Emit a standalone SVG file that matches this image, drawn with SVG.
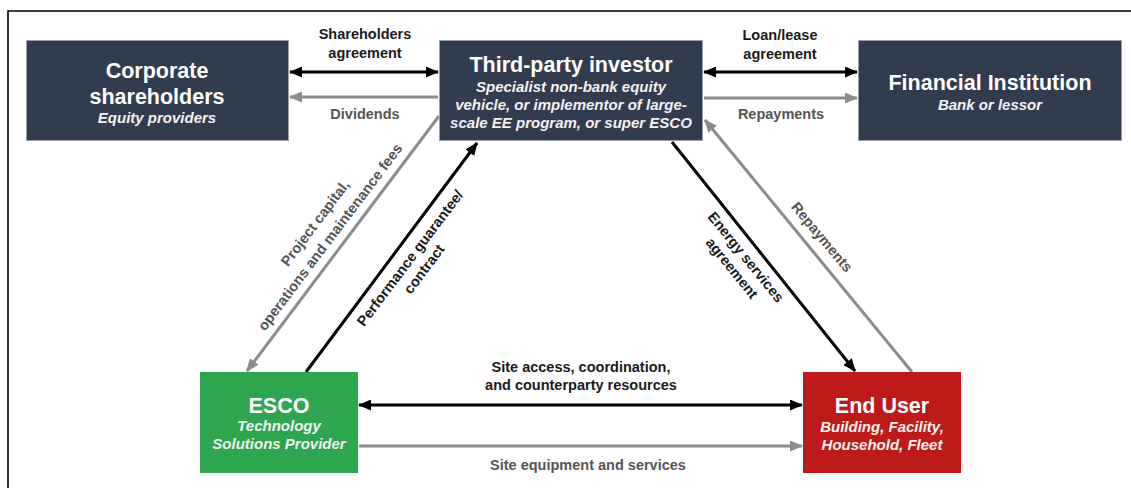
<svg xmlns="http://www.w3.org/2000/svg" width="1131" height="488" viewBox="0 0 1131 488">
<style>
.t{font-family:"Liberation Sans",Arial,sans-serif;font-weight:bold;fill:#fff;text-anchor:middle}
.ti{font-size:21.5px}
.sub{font-size:15px;font-style:italic;fill:#f2f2f2}
.lbl{font-family:"Liberation Sans",Arial,sans-serif;font-weight:bold;font-size:14.5px;text-anchor:middle;fill:#1a1a1a}
.lg{fill:#555}
.dark{fill:#323c4f;stroke:#9aa0aa;stroke-width:1}
.blk{stroke:#000;stroke-width:3;fill:none}
.gry{stroke:#8c8c8c;stroke-width:3;fill:none}
</style>
<defs>
<marker id="ab" markerUnits="userSpaceOnUse" markerWidth="13" markerHeight="11" refX="12" refY="5.5" orient="auto-start-reverse"><path d="M0,0 L13,5.5 L0,11 z" fill="#000"/></marker>
<marker id="ag" markerUnits="userSpaceOnUse" markerWidth="13" markerHeight="11" refX="12" refY="5.5" orient="auto-start-reverse"><path d="M0,0 L13,5.5 L0,11 z" fill="#8c8c8c"/></marker>
</defs>
<rect width="1131" height="488" fill="#fff"/>
<path d="M8,488 V11 H1131" stroke="#000" stroke-width="1.6" fill="none"/>

<g id="connectors">
<line class="blk" x1="290" y1="72" x2="438" y2="72" marker-start="url(#ab)" marker-end="url(#ab)"/>
<line class="gry" x1="438" y1="97" x2="290" y2="97" marker-end="url(#ag)"/>
<line class="blk" x1="704" y1="72" x2="857" y2="72" marker-start="url(#ab)" marker-end="url(#ab)"/>
<line class="gry" x1="704" y1="98" x2="857" y2="98" marker-end="url(#ag)"/>
<line class="gry" x1="439" y1="116" x2="247" y2="371" marker-end="url(#ag)"/>
<line class="blk" x1="306" y1="372" x2="477" y2="143" marker-end="url(#ab)"/>
<line class="blk" x1="672" y1="142" x2="855" y2="371" marker-end="url(#ab)"/>
<line class="gry" x1="912" y1="372" x2="705" y2="120" marker-end="url(#ag)"/>
<line class="blk" x1="359" y1="405" x2="802" y2="405" marker-start="url(#ab)" marker-end="url(#ab)"/>
<line class="gry" x1="359" y1="446" x2="802" y2="446" marker-end="url(#ag)"/>

<text class="lbl" x="365" y="39">Shareholders</text>
<text class="lbl" x="365" y="58">agreement</text>
<text class="lbl lg" x="365" y="119">Dividends</text>
<text class="lbl" x="780" y="40">Loan/lease</text>
<text class="lbl" x="780" y="59">agreement</text>
<text class="lbl lg" x="781" y="119">Repayments</text>
<text class="lbl" x="581" y="372">Site access, coordination,</text>
<text class="lbl" x="581" y="390">and counterparty resources</text>
<text class="lbl lg" x="588" y="470">Site equipment and services</text>
<g transform="translate(315,223) rotate(-53)"><text class="lbl lg" dy="0.35em">Project capital,</text></g>
<g transform="translate(330,237) rotate(-53)"><text class="lbl lg" dy="0.35em">operations and maintenance fees</text></g>
<g transform="translate(410,258) rotate(-53)"><text class="lbl" dy="0.35em">Performance guarantee/</text></g>
<g transform="translate(424,269) rotate(-53)"><text class="lbl" dy="0.35em">contract</text></g>
<g transform="translate(746,257) rotate(51)"><text class="lbl" dy="0.35em">Energy services</text></g>
<g transform="translate(732,268) rotate(51)"><text class="lbl" dy="0.35em">agreement</text></g>
<g transform="translate(822,237) rotate(50)"><text class="lbl lg" dy="0.35em">Repayments</text></g>
</g>

<g id="corporate">
<rect class="dark" x="26.5" y="40.5" width="262" height="100"/>
<text class="t ti" x="157" y="78">Corporate</text>
<text class="t ti" x="157" y="104">shareholders</text>
<text class="t sub" x="157" y="123">Equity providers</text>
</g>
<g id="investor">
<rect class="dark" x="439.5" y="40.5" width="263" height="100"/>
<text class="t ti" x="571" y="72">Third-party investor</text>
<text class="t sub" x="571" y="92">Specialist non-bank equity</text>
<text class="t sub" x="571" y="110">vehicle, or implementor of large-</text>
<text class="t sub" x="571" y="128">scale EE program, or super ESCO</text>
</g>
<g id="financial">
<rect class="dark" x="858.5" y="40.5" width="263" height="100"/>
<text class="t ti" x="990" y="90">Financial Institution</text>
<text class="t sub" x="990" y="110">Bank or lessor</text>
</g>
<g id="esco">
<rect x="200" y="372" width="158" height="101" fill="#2ea64f"/>
<text class="t ti" x="279" y="413">ESCO</text>
<text class="t sub" x="279" y="431">Technology</text>
<text class="t sub" x="279" y="449">Solutions Provider</text>
</g>
<g id="enduser">
<rect x="803" y="372" width="158" height="101" fill="#be1a1a"/>
<text class="t ti" x="882" y="413">End User</text>
<text class="t sub" x="882" y="432">Building, Facility,</text>
<text class="t sub" x="882" y="450">Household, Fleet</text>
</g>
</svg>
